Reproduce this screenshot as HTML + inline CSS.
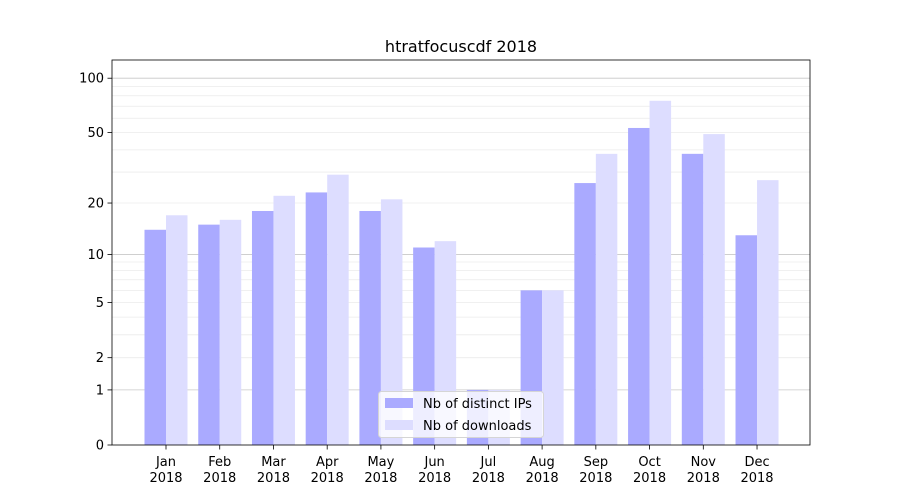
<!DOCTYPE html>
<html><head><meta charset="utf-8"><style>
html,body{margin:0;padding:0;background:#fff;}
svg{display:block;font-family:"DejaVu Sans","Liberation Sans",sans-serif;}
</style></head><body>
<svg id="s" width="900" height="500" xmlns="http://www.w3.org/2000/svg"></svg>
<script>
const s=document.getElementById('s');
const Y=v=>445-183*Math.log10(1+v);
let h='<rect width="900" height="500" fill="#fff"/>';
// gridlines
const minors=[2,3,4,5,6,7,8,9,20,30,40,50,60,70,80,90];
minors.forEach(v=>{h+=`<line x1="112" x2="810" y1="${Y(v)}" y2="${Y(v)}" stroke="#ebebeb" stroke-width="0.8"/>`;});
[1,10,100].forEach(v=>{h+=`<line x1="112" x2="810" y1="${Y(v)}" y2="${Y(v)}" stroke="#c8c8c8" stroke-width="0.8"/>`;});
const months=['Jan','Feb','Mar','Apr','May','Jun','Jul','Aug','Sep','Oct','Nov','Dec'];
const ip=[14,15,18,23,18,11,1,6,26,53,38,13];
const dl=[17,16,22,29,21,12,1,6,38,75,49,27];
for(let i=0;i<12;i++){
  const c=166+i*53.73;
  h+=`<rect x="${c-21.5}" y="${Y(ip[i])}" width="21.5" height="${445-Y(ip[i])}" fill="#aaaaff"/>`;
  h+=`<rect x="${c}" y="${Y(dl[i])}" width="21.5" height="${445-Y(dl[i])}" fill="#ddddff"/>`;
  h+=`<line x1="${c}" x2="${c}" y1="445" y2="449.5" stroke="#000" stroke-width="0.8"/>`;
  h+=`<text x="${c}" y="466" font-size="13" text-anchor="middle">${months[i]}</text>`;
  h+=`<text x="${c}" y="482" font-size="13" text-anchor="middle">2018</text>`;
}
[0,1,2,5,10,20,50,100].forEach(v=>{
  const y=Y(v);
  h+=`<line x1="107.5" x2="112" y1="${y}" y2="${y}" stroke="#000" stroke-width="0.8"/>`;
  h+=`<text x="104" y="${y+4.5}" font-size="13" text-anchor="end">${v}</text>`;
});
h+=`<rect x="112" y="60" width="698" height="385" fill="none" stroke="#000" stroke-width="0.8"/>`;
h+=`<text x="461" y="52" font-size="16" text-anchor="middle">htratfocuscdf 2018</text>`;
// legend
h+=`<rect x="378.5" y="391.5" width="165" height="46" rx="3" fill="#fff" fill-opacity="0.8" stroke="#d5d5d5"/>`;
h+=`<rect x="385" y="398" width="28" height="10" fill="#aaaaff"/>`;
h+=`<text x="423" y="408" font-size="13">Nb of distinct IPs</text>`;
h+=`<rect x="385" y="420" width="28" height="10" fill="#ddddff"/>`;
h+=`<text x="423" y="430" font-size="13">Nb of downloads</text>`;
s.innerHTML=h;
</script>
</body></html>
